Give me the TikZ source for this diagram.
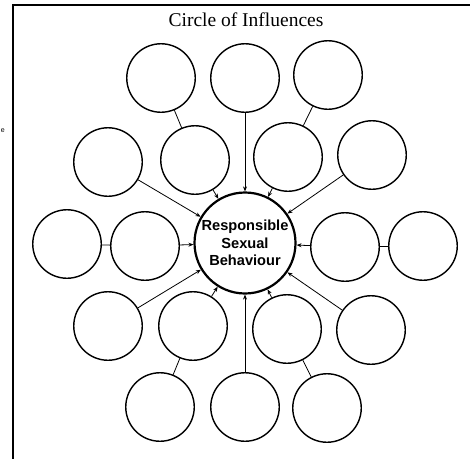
\documentclass[tikz,border=0pt]{standalone}
\usepackage{fontspec}
\setmainfont{Liberation Serif}
\setsansfont{Liberation Sans}
\usetikzlibrary{arrows.meta}
\begin{document}
\begin{tikzpicture}[x=1pt,y=-1pt,
  small/.style={circle,draw,line width=1.4pt,minimum size=68.5pt,inner sep=0pt},
  hub/.style={circle,draw,line width=2.2pt,minimum size=101pt,inner sep=0pt,
    font=\sffamily\bfseries\fontsize{14.6}{17.5}\selectfont,align=center},
  feed/.style={line width=0.8pt,-{Stealth[length=5pt,width=4pt]}},
  link/.style={line width=0.8pt},
  frame/.style={line width=1.6pt}]
\useasboundingbox (0,0) rectangle (470,458);
% frame
\coordinate (fb) at (13,460);
\coordinate (fc) at (13,5);
\coordinate (fr) at (472,5);
\draw[frame] (fb) -- (fc) -- (fr);
% stray letter at the left margin
\node[font=\sffamily\fontsize{7}{8}\selectfont,anchor=west,inner sep=0pt] (stray) at (0.6,131) {e};
% title
\node[font=\fontsize{19.5}{22}\selectfont,inner sep=0pt] (title) at (246,20) {Circle of Influences};
% hub
\node[hub] (hub) at (245,243) {Responsible\\Sexual\\Behaviour};
% circles
\node[small] (t1) at (161,78) {};
\node[small] (t2) at (245,78) {};
\node[small] (t3) at (328,75) {};
\node[small] (u1) at (108,162) {};
\node[small] (u2) at (195,160) {};
\node[small] (u3) at (288,157) {};
\node[small] (u4) at (372,155) {};
\node[small] (m1) at (67,244) {};
\node[small] (m2) at (145,246) {};
\node[small] (m3) at (345,247) {};
\node[small] (m4) at (423,246) {};
\node[small] (l1) at (108,326) {};
\node[small] (l2) at (193,326) {};
\node[small] (l3) at (287,329) {};
\node[small] (l4) at (371,330) {};
\node[small] (b1) at (160,407) {};
\node[small] (b2) at (245,407) {};
\node[small] (b3) at (327,408) {};
% plain links
\draw[link] (t1) -- (u2);
\draw[link] (t3) -- (u3);
\draw[link] (m1) -- (m2);
\draw[link] (m3) -- (m4);
\draw[link] (l2) -- (b1);
\draw[link] (l3) -- (b3);
% arrows to hub
\foreach \s in {t2,u1,u2,u3,u4,m2,m3,l1,l2,l3,l4,b2}
  \draw[feed] (\s) -- (hub);
\end{tikzpicture}
\end{document}
